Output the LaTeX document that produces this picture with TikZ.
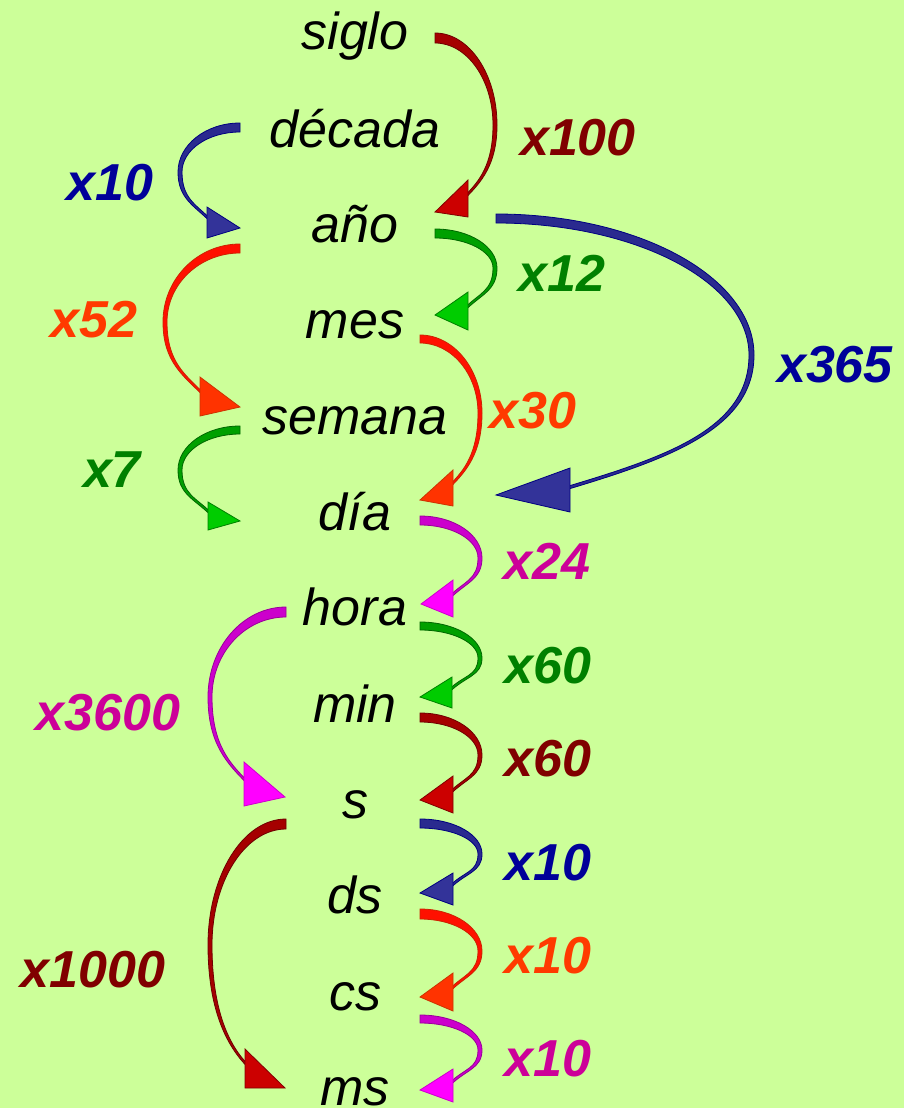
\documentclass[tikz,border=0pt]{standalone}
\usepackage{fontspec}
\setmainfont{Liberation Sans}
\definecolor{bgc}{HTML}{CCFF99}
\definecolor{lred}{HTML}{800000}
\definecolor{lblue}{HTML}{000099}
\definecolor{lgreen}{HTML}{008000}
\definecolor{lorange}{HTML}{FF3A00}
\definecolor{lmag}{HTML}{CC0099}
\tikzset{
  word/.style={anchor=base, inner sep=0pt, font=\itshape\fontsize{52}{60}\selectfont},
  lbl/.style={anchor=base, inner sep=0pt, font=\bfseries\itshape\fontsize{52}{60}\selectfont},
  tR/.style={fill={rgb,255:red,165;green,0;blue,0}, draw={rgb,255:red,110;green,0;blue,0}, line width=0.8pt},
  hR/.style={fill={rgb,255:red,204;green,0;blue,0}, draw={rgb,255:red,128;green,0;blue,0}, line width=0.8pt},
  tB/.style={fill={rgb,255:red,42;green,42;blue,143}, draw={rgb,255:red,0;green,0;blue,128}, line width=0.8pt},
  hB/.style={fill={rgb,255:red,51;green,51;blue,153}, draw={rgb,255:red,0;green,0;blue,128}, line width=0.8pt},
  tG/.style={fill={rgb,255:red,0;green,160;blue,0}, draw={rgb,255:red,0;green,102;blue,0}, line width=0.8pt},
  hG/.style={fill={rgb,255:red,0;green,204;blue,0}, draw={rgb,255:red,0;green,128;blue,0}, line width=0.8pt},
  tO/.style={fill={rgb,255:red,255;green,16;blue,0}, draw={rgb,255:red,204;green,34;blue,0}, line width=0.8pt},
  hO/.style={fill={rgb,255:red,255;green,51;blue,0}, draw={rgb,255:red,204;green,51;blue,0}, line width=0.8pt},
  tM/.style={fill={rgb,255:red,204;green,0;blue,204}, draw={rgb,255:red,153;green,0;blue,153}, line width=0.8pt},
  hM/.style={fill={rgb,255:red,255;green,0;blue,255}, draw={rgb,255:red,204;green,0;blue,204}, line width=0.8pt},
}
\def\rslope{1}
\def\rfac{0.5}
\def\rwm{4}
% #1 style, #2 dir, #3 sx, #4 sy, #5 w0, #6 xb, #7 ym, #8 jx, #9 jy
\newcommand\ribtail[9]{%
  \pgfmathsetmacro\rk{0.552}%
  \pgfmathsetmacro\rxbi{#6-(#2)*\rwm}%
  \pgfmathsetmacro\rd{\rfac*abs(#6-#8)}%
  \pgfmathsetmacro\rdi{\rfac*abs(\rxbi-#8)}%
  \pgfmathsetmacro\cAx{#3+\rk*(#6-#3)}%
  \pgfmathsetmacro\cBy{#7-\rk*(#7-#4)}%
  \pgfmathsetmacro\cCy{#7+\rk*(#9-#7)}%
  \pgfmathsetmacro\cDx{#8+(#2)*\rd}%
  \pgfmathsetmacro\cDy{#9+1.5-\rd*\rslope}%
  \pgfmathsetmacro\cEx{#8+(#2)*\rdi}%
  \pgfmathsetmacro\cEy{#9-1.5-\rdi*\rslope}%
  \pgfmathsetmacro\cGy{#7-\rk*(#7-#4-#5)}%
  \pgfmathsetmacro\cHx{#3+\rk*(\rxbi-#3)}%
  \pgfmathsetmacro\jlo{#9+1.5}%
  \pgfmathsetmacro\jhi{#9-1.5}%
  \pgfmathsetmacro\sbot{#4+#5}%
  \filldraw[#1] (#3,#4) .. controls (\cAx,#4) and (#6,\cBy) .. (#6,#7)
    .. controls (#6,\cCy) and (\cDx,\cDy) .. (#8,\jlo)
    -- (#8,\jhi)
    .. controls (\cEx,\cEy) and (\rxbi,\cCy) .. (\rxbi,#7)
    .. controls (\rxbi,\cGy) and (\cHx,\sbot) .. (#3,\sbot) -- cycle;
}
% #1 style, #2 bx, #3 b1, #4 b2, #5 tx, #6 ty
\newcommand\ribhead[6]{%
  \filldraw[#1, line join=miter] (#2,#3) -- (#5,#6) -- (#2,#4) -- cycle;
}
\begin{document}
\begin{tikzpicture}[x=1pt,y=-1pt]
\useasboundingbox (0,0) rectangle (904,1108);
\fill[bgc] (0,0) rectangle (904,1108);

% words
\node[word] (siglo)  at (355,50)   {siglo};
\node[word] (decada) at (355,147)  {década};
\node[word] (anio)   at (355,242)  {año};
\node[word] (mes)    at (355,338)  {mes};
\node[word] (semana) at (355,434)  {semana};
\node[word] (dia)    at (355,530)  {día};
\node[word] (hora)   at (355,625)  {hora};
\node[word] (min)    at (355,722)  {min};
\node[word] (s)      at (355,818)  {s};
\node[word] (ds)     at (355,913)  {ds};
\node[word] (cs)     at (355,1010) {cs};
\node[word] (ms)     at (355,1105) {ms};

% labels
\node[lbl, text=lred]    (l100)  at (578,155) {x100};
\node[lbl, text=lblue]   (l10a)  at (110,200) {x10};
\node[lbl, text=lgreen]  (l12)   at (562,291) {x12};
\node[lbl, text=lblue]   (l365)  at (835,382) {x365};
\node[lbl, text=lorange] (l52)   at (94,337)  {x52};
\node[lbl, text=lorange] (l30)   at (533,428) {x30};
\node[lbl, text=lgreen]  (l7)    at (112,487) {x7};
\node[lbl, text=lmag]    (l24)   at (547,579) {x24};
\node[lbl, text=lgreen]  (l60a)  at (548,683) {x60};
\node[lbl, text=lmag]    (l3600) at (108,730) {x3600};
\node[lbl, text=lred]    (l60b)  at (548,776) {x60};
\node[lbl, text=lblue]   (l10b)  at (548,880) {x10};
\node[lbl, text=lred]    (l1000) at (93,987)  {x1000};
\node[lbl, text=lorange] (l10c)  at (548,973) {x10};
\node[lbl, text=lmag]    (l10d)  at (548,1076) {x10};

% siglo -> año
\ribtail{tR}{1}{435}{33}{10}{497}{125}{465}{197}
\ribhead{hR}{468}{180}{217}{435}{212}
% década -> año
\ribtail{tB}{-1}{240}{123}{9}{178}{172}{210}{220}
\ribhead{hB}{207}{207}{238}{240}{228}
% año -> mes
\ribtail{tG}{1}{435}{229}{9}{497}{268}{465}{309}
\ribhead{hG}{468}{292}{330}{435}{315}
% año -> día
\begingroup
\def\rslope{0.3}\def\rfac{0.55}\def\rwm{5}
\ribtail{tB}{1}{496}{214}{9}{754}{355}{567}{488}
\endgroup
\ribhead{hB}{570}{468}{512}{496}{495}
% mes -> día
\ribtail{tO}{1}{420}{335}{8}{482}{413}{450}{486}
\ribhead{hO}{453}{470}{506}{420}{500}
% año -> semana
\ribtail{tO}{-1}{240}{244}{9}{163}{322}{203}{394}
\ribhead{hO}{200}{377}{416}{240}{407}
% semana -> día
\ribtail{tG}{-1}{240}{426}{8}{178}{470}{211}{514}
\ribhead{hG}{208}{502}{530}{240}{521}
% día -> hora
\ribtail{tM}{1}{420}{516}{9}{482}{558}{450}{597}
\ribhead{hM}{453}{580}{617}{421}{604}
% hora -> min
\ribtail{tG}{1}{420}{622}{8}{482}{658}{449}{691}
\ribhead{hG}{452}{677}{708}{420}{697}
% min -> s
\ribtail{tR}{1}{420}{713}{9}{482}{755}{450}{793}
\ribhead{hR}{453}{776}{813}{420}{800}
% hora -> s
\ribtail{tM}{-1}{286}{607}{10}{208}{697}{247}{782}
\ribhead{hM}{244}{762}{806}{285}{797}
% s -> ds
\ribtail{tB}{1}{420}{819}{9}{482}{854}{450}{887}
\ribhead{hB}{453}{873}{905}{420}{893}
% ds -> cs
\ribtail{tO}{1}{420}{909}{10}{482}{951}{450}{990}
\ribhead{hO}{453}{973}{1011}{420}{997}
% cs -> ms
\ribtail{tM}{1}{420}{1015}{8}{482}{1050}{450}{1084}
\ribhead{hM}{453}{1069}{1102}{420}{1090}
% s -> ms
\ribtail{tR}{-1}{286}{819}{10}{208}{945}{248}{1066}
\ribhead{hR}{245}{1049}{1088}{285}{1088}
\end{tikzpicture}
\end{document}
